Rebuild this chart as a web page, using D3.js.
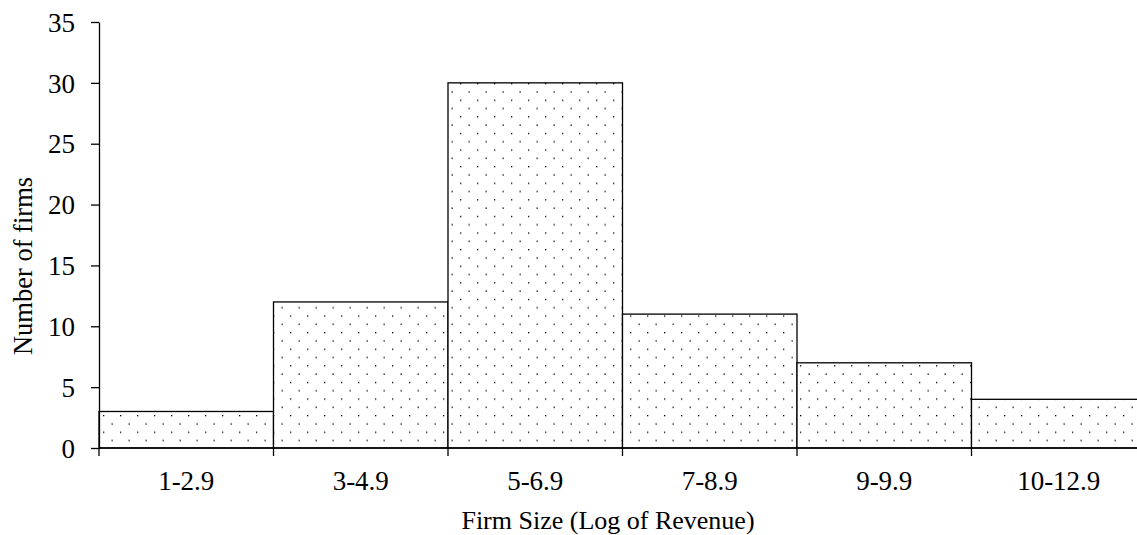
<!DOCTYPE html>
<html>
<head>
<meta charset="utf-8">
<script src="https://cdn.jsdelivr.net/npm/d3@7"></script>
<style>
  html, body { margin: 0; padding: 0; background: #fff; }
  svg { display: block; }
  text { font-family: "Liberation Serif", "Times New Roman", serif; fill: #000; }
</style>
</head>
<body>
<svg id="chart" width="1137" height="535"></svg>
<script>
// Firm counts by size class (log of revenue)
const categories = ["1-2.9", "3-4.9", "5-6.9", "7-8.9", "9-9.9", "10-12.9"];
const firmCounts = [3, 12, 30, 11, 7, 4];
const yTicks = [0, 5, 10, 15, 20, 25, 30, 35];

const svg = d3.select("#chart");
const margin = { left: 99, top: 22, bottom: 87 };
const bandWidth = 174.5;
const height = 535;

const x = d3.scaleBand()
  .domain(categories)
  .range([margin.left, margin.left + bandWidth * categories.length])
  .padding(0);

const y = d3.scaleLinear()
  .domain([0, 35])
  .range([height - margin.bottom, margin.top]);

// sparse dot fill used inside the bars
const defs = svg.append("defs");
const pat = defs.append("pattern")
  .attr("id", "dots")
  .attr("patternUnits", "userSpaceOnUse")
  .attr("width", 17)
  .attr("height", 16.6)
  .attr("x", margin.left + 4)
  .attr("y", 0);
pat.append("rect").attr("width", 17).attr("height", 16.6).attr("fill", "#fff");
pat.append("rect").attr("x", 0).attr("y", 0).attr("width", 1.3).attr("height", 1.3).attr("fill", "#000");
pat.append("rect").attr("x", 8.5).attr("y", 8.3).attr("width", 1.3).attr("height", 1.3).attr("fill", "#000");

// bars
svg.append("g")
  .selectAll("rect")
  .data(categories)
  .join("rect")
  .attr("x", d => x(d))
  .attr("y", (d, i) => y(firmCounts[i]))
  .attr("width", x.bandwidth())
  .attr("height", (d, i) => y(0) - y(firmCounts[i]))
  .attr("fill", "url(#dots)")
  .attr("stroke", "#000")
  .attr("stroke-width", 1.3);

// y axis
const yAxis = svg.append("g")
  .attr("transform", `translate(${margin.left},0)`)
  .call(d3.axisLeft(y).tickValues(yTicks).tickSize(8).tickPadding(16).tickSizeOuter(0));
yAxis.attr("font-size", null).attr("font-family", null);
yAxis.select(".domain").attr("stroke", "#000").attr("stroke-width", 1.3);
yAxis.selectAll(".tick line").attr("stroke", "#000").attr("stroke-width", 1.3);
yAxis.selectAll(".tick text")
  .attr("dy", "0.34em")
  .style("font-size", "27px");

// x axis: ticks at bar boundaries, labels centred in each band
const xAxisG = svg.append("g").attr("transform", `translate(0,${y(0)})`);
xAxisG.append("line")
  .attr("x1", margin.left).attr("x2", 1137)
  .attr("stroke", "#000").attr("stroke-width", 1.3);
const bounds = categories.map(c => x(c)).concat([x(categories[categories.length - 1]) + x.bandwidth()]);
xAxisG.selectAll("line.tk")
  .data(bounds)
  .join("line")
  .attr("class", "tk")
  .attr("x1", d => d).attr("x2", d => d)
  .attr("y1", 0).attr("y2", 8)
  .attr("stroke", "#000").attr("stroke-width", 1.3);
xAxisG.selectAll("text")
  .data(categories)
  .join("text")
  .attr("x", d => x(d) + x.bandwidth() / 2)
  .attr("y", 42)
  .attr("text-anchor", "middle")
  .style("font-size", "27px")
  .text(d => d);

// axis titles
svg.append("text")
  .attr("x", 608)
  .attr("y", 529)
  .attr("text-anchor", "middle")
  .style("font-size", "26px")
  .text("Firm Size (Log of Revenue)");

svg.append("text")
  .attr("transform", "translate(32,266) rotate(-90)")
  .attr("text-anchor", "middle")
  .style("font-size", "26.5px")
  .text("Number of firms");
</script>
</body>
</html>
